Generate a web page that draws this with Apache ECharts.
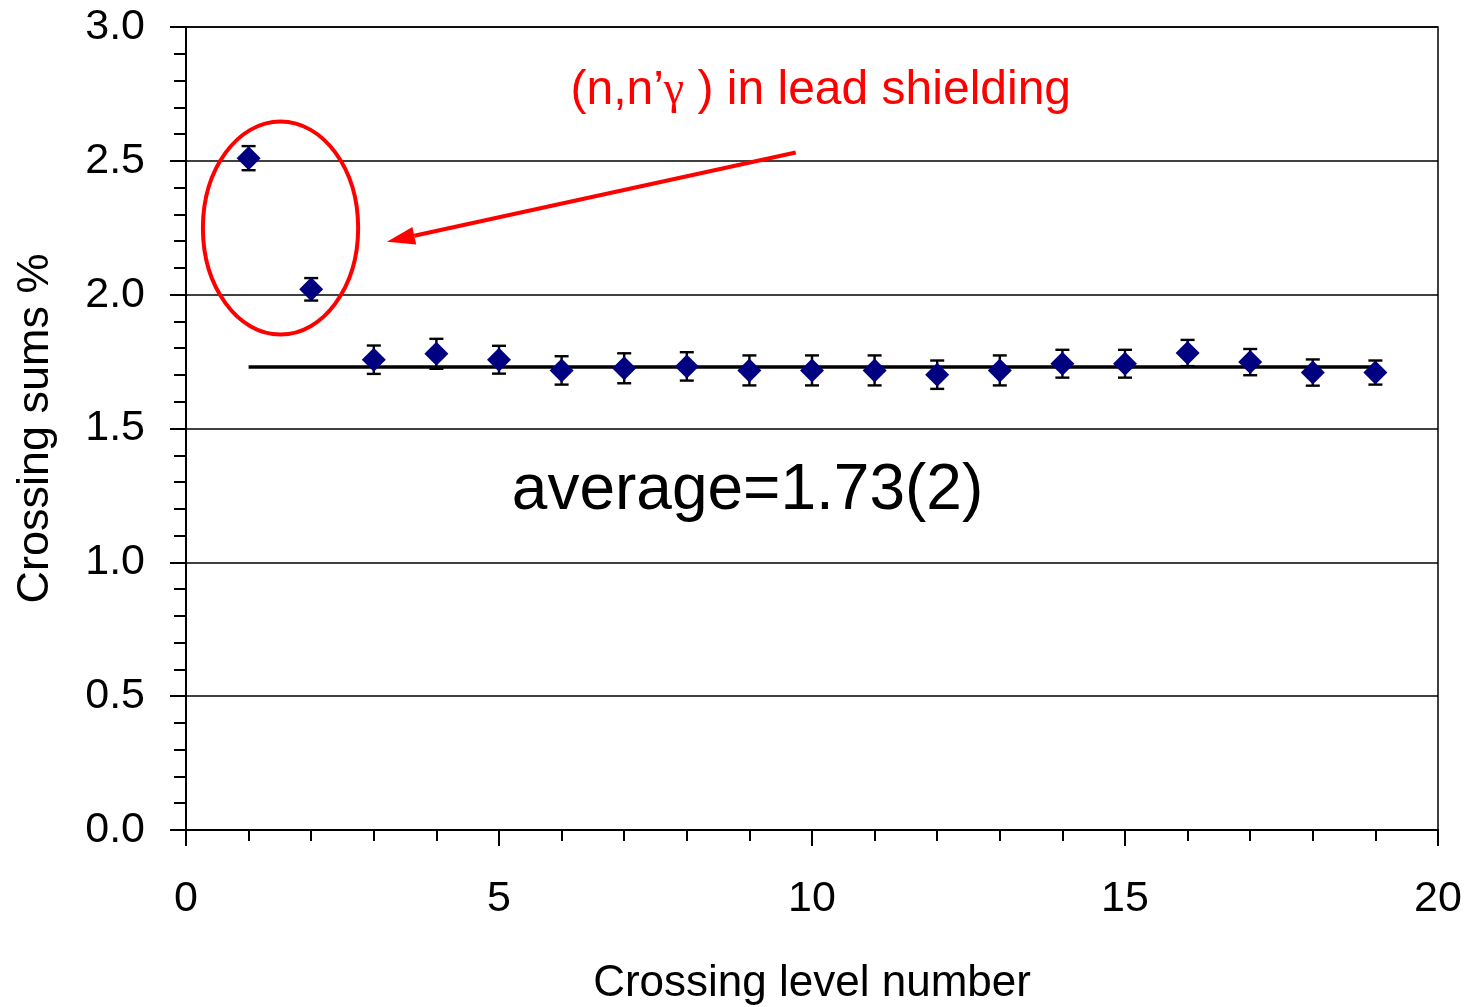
<!DOCTYPE html>
<html>
<head>
<meta charset="utf-8">
<script src="https://cdn.jsdelivr.net/npm/echarts@6/dist/echarts.min.js"></script>
<style>
  html, body { margin: 0; padding: 0; background: #fff; }
  #chart { width: 1472px; height: 1007px; }
</style>
</head>
<body>
<div id="chart"></div>
<script>
// Crossing level number and measured crossing sum (%) with its uncertainty
const levels = [1, 2, 3, 4, 5, 6, 7, 8, 9, 10, 11, 12, 13, 14, 15, 16, 17, 18, 19];
const sums   = [2.51, 2.02, 1.757, 1.779, 1.757, 1.717, 1.725, 1.732, 1.717, 1.717,
                1.717, 1.701, 1.717, 1.742, 1.742, 1.782, 1.748, 1.709, 1.709];
const errors = [0.045, 0.042, 0.053, 0.056, 0.052, 0.053, 0.056, 0.053, 0.056, 0.056,
                0.056, 0.053, 0.056, 0.052, 0.052, 0.049, 0.049, 0.049, 0.045];

// Weighted average over the plateau levels
const average = 1.73;
const averageSpan = [1, 19];

const xTicks = [0, 5, 10, 15, 20];
const yTicks = [0.0, 0.5, 1.0, 1.5, 2.0, 2.5, 3.0];

const FONT = '"Liberation Sans", Arial, sans-serif';
const RED = '#ff0000';

const chart = echarts.init(document.getElementById('chart'), null, { renderer: 'canvas' });

const points = levels.map((x, i) => [x, sums[i]]);
const bars = levels.map((x, i) => [x, sums[i], errors[i]]);

const option = {
  animation: false,
  backgroundColor: '#ffffff',
  grid: {
    left: 186, right: 34, top: 27, bottom: 177,
    containLabel: false,
    outerBoundsMode: 'none',
    show: true, borderColor: '#000', borderWidth: 1.5, backgroundColor: 'transparent'
  },
  xAxis: {
    type: 'value',
    min: xTicks[0], max: xTicks[xTicks.length - 1], interval: 5,
    name: 'Crossing level number',
    nameLocation: 'middle', nameGap: 132,
    nameTextStyle: { fontFamily: FONT, fontSize: 44, color: '#000' },
    axisLine: { onZero: false, lineStyle: { color: '#000', width: 2 } },
    axisTick: { show: true, length: 16, lineStyle: { color: '#000', width: 2 } },
    minorTick: { show: true, splitNumber: 5, length: 11, lineStyle: { color: '#000', width: 2 } },
    axisLabel: { fontFamily: FONT, fontSize: 43, color: '#000', margin: 48 },
    splitLine: { show: false }
  },
  yAxis: {
    type: 'value',
    min: yTicks[0], max: yTicks[yTicks.length - 1], interval: 0.5,
    name: 'Crossing sums %',
    nameLocation: 'middle', nameGap: 128,
    nameTextStyle: { fontFamily: FONT, fontSize: 45, color: '#000' },
    axisLine: { onZero: false, lineStyle: { color: '#000', width: 2 } },
    axisTick: { show: true, length: 16, lineStyle: { color: '#000', width: 2 } },
    minorTick: { show: true, splitNumber: 5, length: 12, lineStyle: { color: '#000', width: 2 } },
    axisLabel: {
      fontFamily: FONT, fontSize: 43, color: '#000', margin: 41,
      formatter: v => v.toFixed(1)
    },
    splitLine: { show: true, lineStyle: { color: '#000', width: 1.5 } }
  },
  series: [
    {
      name: 'average',
      type: 'line',
      data: averageSpan.map(x => [x, average]),
      symbol: 'none',
      lineStyle: { color: '#000', width: 3.5 },
      z: 2,
      silent: true
    },
    {
      name: 'uncertainty',
      type: 'custom',
      data: bars,
      z: 3,
      renderItem: function (params, api) {
        const x = api.value(0), y = api.value(1), e = api.value(2);
        const hi = api.coord([x, y + e]);
        const lo = api.coord([x, y - e]);
        const half = 7;
        const style = { stroke: '#000', lineWidth: 2.4 };
        return {
          type: 'group',
          children: [
            { type: 'line', shape: { x1: hi[0], y1: hi[1], x2: lo[0], y2: lo[1] }, style },
            { type: 'line', shape: { x1: hi[0] - half, y1: hi[1], x2: hi[0] + half, y2: hi[1] }, style },
            { type: 'line', shape: { x1: lo[0] - half, y1: lo[1], x2: lo[0] + half, y2: lo[1] }, style }
          ]
        };
      }
    },
    {
      name: 'crossing sums',
      type: 'scatter',
      data: points,
      symbol: 'diamond',
      symbolSize: [24, 24],
      itemStyle: { color: '#000080', opacity: 1 },
      z: 4
    }
  ]
};

chart.setOption(option);

// Annotations anchored in data space: ellipse around the two high levels,
// arrow pointing at it, and the two text notes.
const ellipseCenter = [1.51, 2.249];
const ellipseRadii = [1.24, 0.398];
const arrowFrom = [9.74, 2.531];
const arrowTo = [3.21, 2.198];
const noteAt = [10.14, 2.763];
const averageNoteAt = [8.97, 1.264];

function px(p) { return chart.convertToPixel({ gridIndex: 0 }, p); }

const c = px(ellipseCenter);
const r0 = px([ellipseCenter[0] + ellipseRadii[0], ellipseCenter[1] + ellipseRadii[1]]);
const rx = Math.abs(r0[0] - c[0]);
const ry = Math.abs(r0[1] - c[1]);

const a0 = px(arrowFrom);
const a1 = px(arrowTo);
const ang = Math.atan2(a1[1] - a0[1], a1[0] - a0[0]);
const headLen = 28, headHalf = 9;
const base = [a1[0] - headLen * Math.cos(ang), a1[1] - headLen * Math.sin(ang)];
const nx = -Math.sin(ang), ny = Math.cos(ang);

const t1 = px(noteAt);
const t2 = px(averageNoteAt);

chart.setOption({
  graphic: [
    {
      type: 'ellipse',
      shape: { cx: c[0], cy: c[1], rx: rx, ry: ry },
      style: { fill: 'none', stroke: RED, lineWidth: 4 },
      z: 10
    },
    {
      type: 'line',
      shape: { x1: a0[0], y1: a0[1], x2: base[0], y2: base[1] },
      style: { stroke: RED, lineWidth: 4 },
      z: 10
    },
    {
      type: 'polygon',
      shape: { points: [
        [a1[0], a1[1]],
        [base[0] + nx * headHalf, base[1] + ny * headHalf],
        [base[0] - nx * headHalf, base[1] - ny * headHalf]
      ] },
      style: { fill: RED },
      z: 10
    },
    {
      type: 'text',
      x: t1[0], y: t1[1],
      style: {
        text: '(n,n\u2019{g|\u03B3} ) in lead shielding',
        fill: RED,
        font: '48px ' + FONT,
        align: 'center', verticalAlign: 'middle',
        rich: {
          g: { fontFamily: '"Liberation Serif", "DejaVu Serif", serif', fontSize: 46, fill: RED }
        }
      },
      z: 10
    },
    {
      type: 'text',
      x: t2[0], y: t2[1],
      style: {
        text: 'average=1.73(2)',
        fill: '#000',
        font: '64px ' + FONT,
        align: 'center', verticalAlign: 'middle'
      },
      z: 10
    }
  ]
});
</script>
</body>
</html>
